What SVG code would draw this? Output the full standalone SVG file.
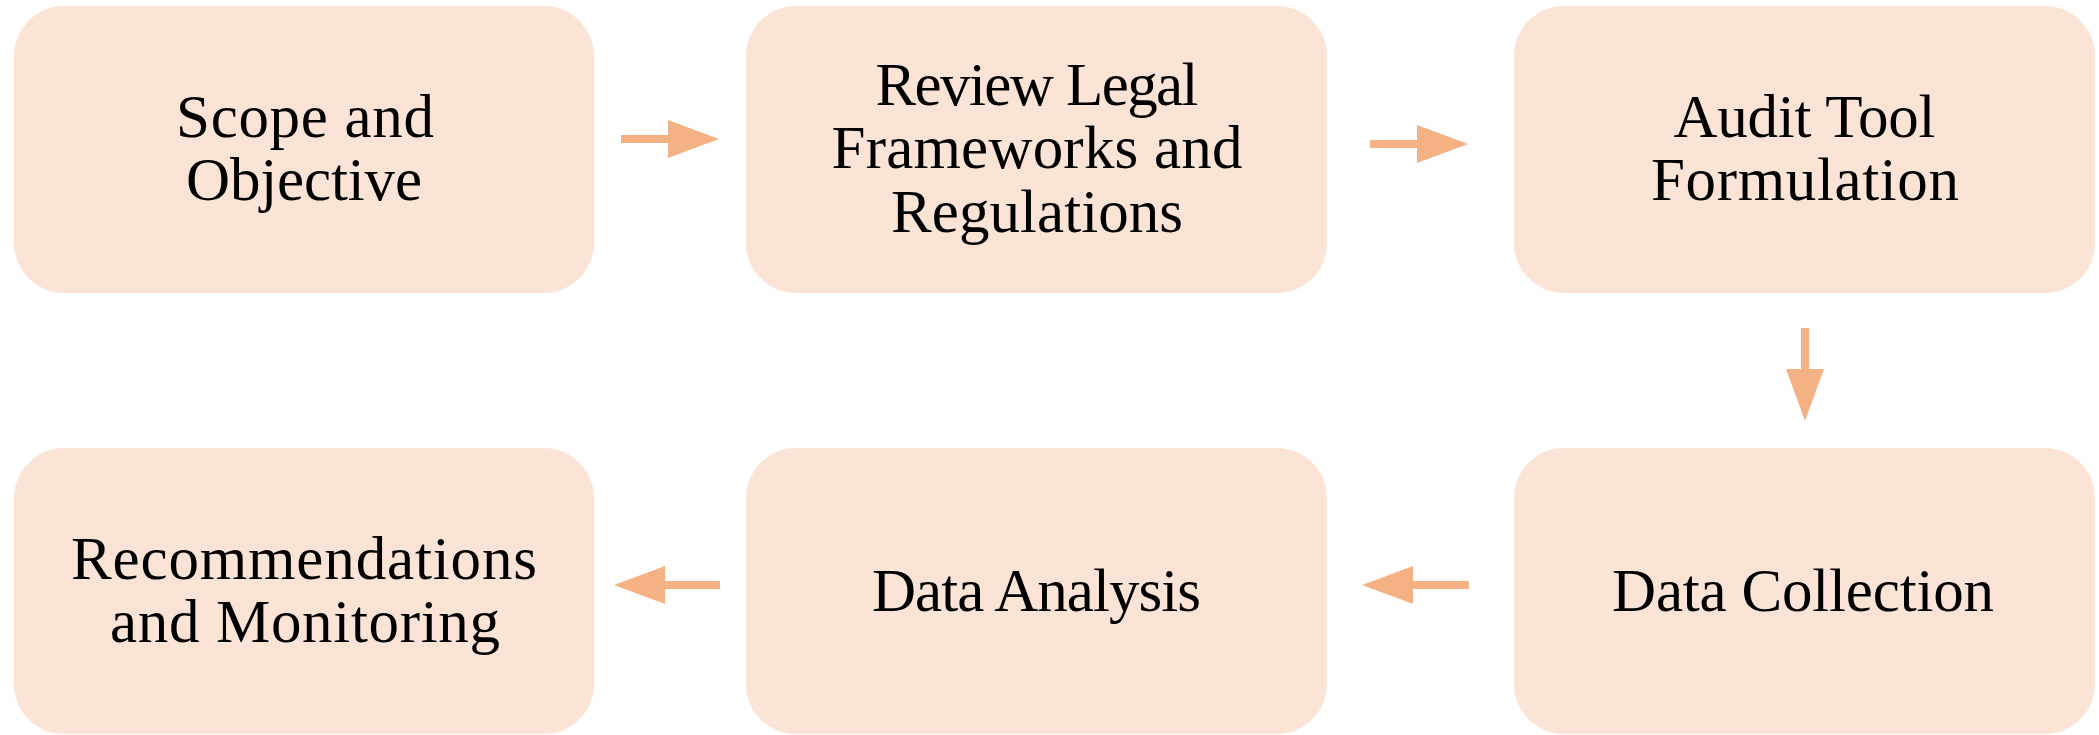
<svg xmlns="http://www.w3.org/2000/svg" width="2099" height="735" viewBox="0 0 2099 735">
<style>
.box{fill:#FBE4D6;}
.lbl{font-family:"Liberation Serif","Times New Roman",serif;font-size:61px;fill:#000;text-anchor:middle;}
.arr{fill:#F4B183;}
</style>
<rect width="2099" height="735" fill="#FFFFFF"/>
<g id="connectors">
<path class="arr" d="M621,135 H668 V120 L719,139 L668,158 V143 H621 Z"/>
<path class="arr" d="M1370,140 H1417 V125 L1468,144 L1417,163 V148 H1370 Z"/>
<path class="arr" d="M1801,328 V369 H1786 L1805,421 L1824,369 H1809 V328 Z"/>
<path class="arr" d="M1469,581 H1413 V566 L1362,585 L1413,604 V589 H1469 Z"/>
<path class="arr" d="M720,581 H665 V566 L614,585 L665,604 V589 H720 Z"/>
</g>
<g id="node1">
<rect class="box" x="14" y="6" width="580" height="287" rx="50" ry="50"/>
<text class="lbl" x="305" y="137" textLength="258">Scope and</text>
<text class="lbl" x="304" y="200" textLength="236">Objective</text>
</g>
<g id="node2">
<rect class="box" x="746" y="6" width="581" height="287" rx="50" ry="50"/>
<text class="lbl" x="1037" y="105" textLength="323">Review Legal</text>
<text class="lbl" x="1037" y="168" textLength="411">Frameworks and</text>
<text class="lbl" x="1037" y="232" textLength="292">Regulations</text>
</g>
<g id="node3">
<rect class="box" x="1514" y="6" width="581" height="287" rx="50" ry="50"/>
<text class="lbl" x="1804.5" y="137" textLength="262">Audit Tool</text>
<text class="lbl" x="1805" y="200" textLength="308">Formulation</text>
</g>
<g id="node4">
<rect class="box" x="1514" y="448" width="581" height="286" rx="50" ry="50"/>
<text class="lbl" x="1803" y="611" textLength="382">Data Collection</text>
</g>
<g id="node5">
<rect class="box" x="746" y="448" width="581" height="286" rx="50" ry="50"/>
<text class="lbl" x="1036.5" y="611" textLength="329">Data Analysis</text>
</g>
<g id="node6">
<rect class="box" x="14" y="448" width="580" height="286" rx="50" ry="50"/>
<text class="lbl" x="304" y="579" textLength="466">Recommendations</text>
<text class="lbl" x="305" y="642" textLength="390">and Monitoring</text>
</g>
</svg>
